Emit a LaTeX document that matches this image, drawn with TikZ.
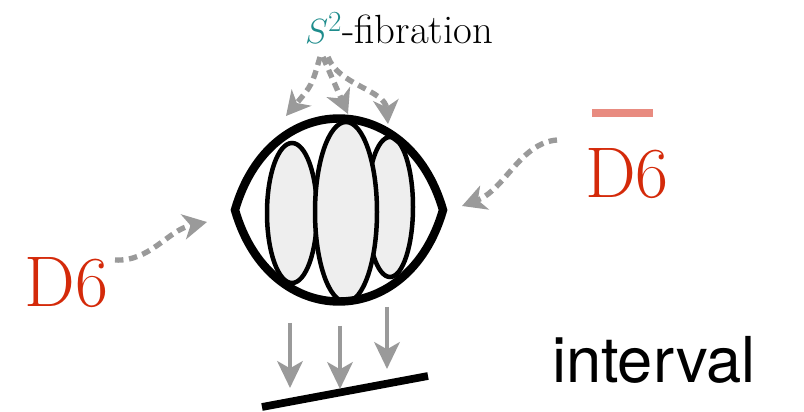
\documentclass[tikz,border=0pt]{standalone}
\usepackage{amsmath}
\usepackage{fontspec}
\usepackage{xcolor}
\usetikzlibrary{arrows.meta,positioning,calc}
\newfontfamily\helv{TeX Gyre Heros}
\definecolor{fibteal}{HTML}{1E8C8C}
\definecolor{dred}{HTML}{D42A0A}
\definecolor{barpink}{HTML}{E88B80}
\definecolor{arrgray}{HTML}{9A9A9A}
\definecolor{cellgray}{HTML}{EEEEEE}

\begin{document}
\begin{tikzpicture}[x=0.025cm, y=-0.025cm, >=Latex,
    every node/.style={inner sep=0pt, outer sep=0pt},
    fibarrow/.style={arrgray, line width=3.8pt, dash pattern=on 6pt off 4pt,
        -{Stealth[length=17pt, width=18pt, inset=5pt]}},
    projarrow/.style={arrgray, line width=3.4pt,
        -{Stealth[length=19pt, width=18pt, inset=5pt]}},
    cell/.style={draw=black, fill=cellgray, line width=3.2pt}]
\useasboundingbox (0,0) rectangle (804,412);

% the fibred space
\draw[cell] (292,213) ellipse [x radius=25, y radius=70];
\draw[cell] (390,207) ellipse [x radius=23, y radius=70];
\draw[cell] (346,212) ellipse [x radius=31, y radius=90];
\coordinate (ltip) at (235,210);
\coordinate (rtip) at (443,210);
\draw[line width=6pt, line join=miter] (ltip) .. controls (270,88) and (408,88) .. (rtip)
    .. controls (408,332) and (270,332) .. (ltip) -- cycle;

% labels
\node[anchor=base west, font=\fontsize{29}{32}\selectfont] (fib) at (305,44)
    {\textcolor{fibteal}{$S^2$}-fibration};
\node[anchor=base west, text=dred, font=\fontsize{51}{55}\selectfont] (d6l) at (25,307) {D6};
\node[anchor=base west, text=dred, font=\fontsize{51}{55}\selectfont] (d6r) at (585,198) {D6};
\draw[barpink, line width=5pt] (592,113) -- (653,113);
\node[anchor=base west, font=\helv\fontsize{45}{50}\selectfont] (intv) at (552,383) {interval};

% fibre arrows
\coordinate (f1) at (320,57);
\coordinate (f2) at (323,57);
\coordinate (f3) at (328,57);
\coordinate (t1) at (286,116);
\coordinate (t2) at (348,114);
\coordinate (t3) at (388,124);
\draw[fibarrow] (f1) .. controls (312,85) .. (t1);
\draw[fibarrow] (f2) .. controls (333,80) .. (t2);
\draw[fibarrow] (f3) .. controls (338,85) and (385,90) .. (t3);

% D6 arrows
\coordinate (dl) at (115,260);
\coordinate (dlt) at (207,222);
\coordinate (dr) at (557,140);
\coordinate (drt) at (462,206);
\draw[fibarrow] (dl) .. controls (150,262) and (168,230) .. (dlt);
\draw[fibarrow] (dr) .. controls (520,143) and (505,190) .. (drt);

% projection to the interval
\coordinate (ia) at (262,407);
\coordinate (ib) at (428,376);
\draw[line width=5.5pt] (ia) -- (ib);
\foreach \px/\py/\qy in {290/323/388, 340/326/389, 387/307/369} {
    \draw[projarrow] (\px,\py) -- (\px,\qy);
}
\end{tikzpicture}
\end{document}
